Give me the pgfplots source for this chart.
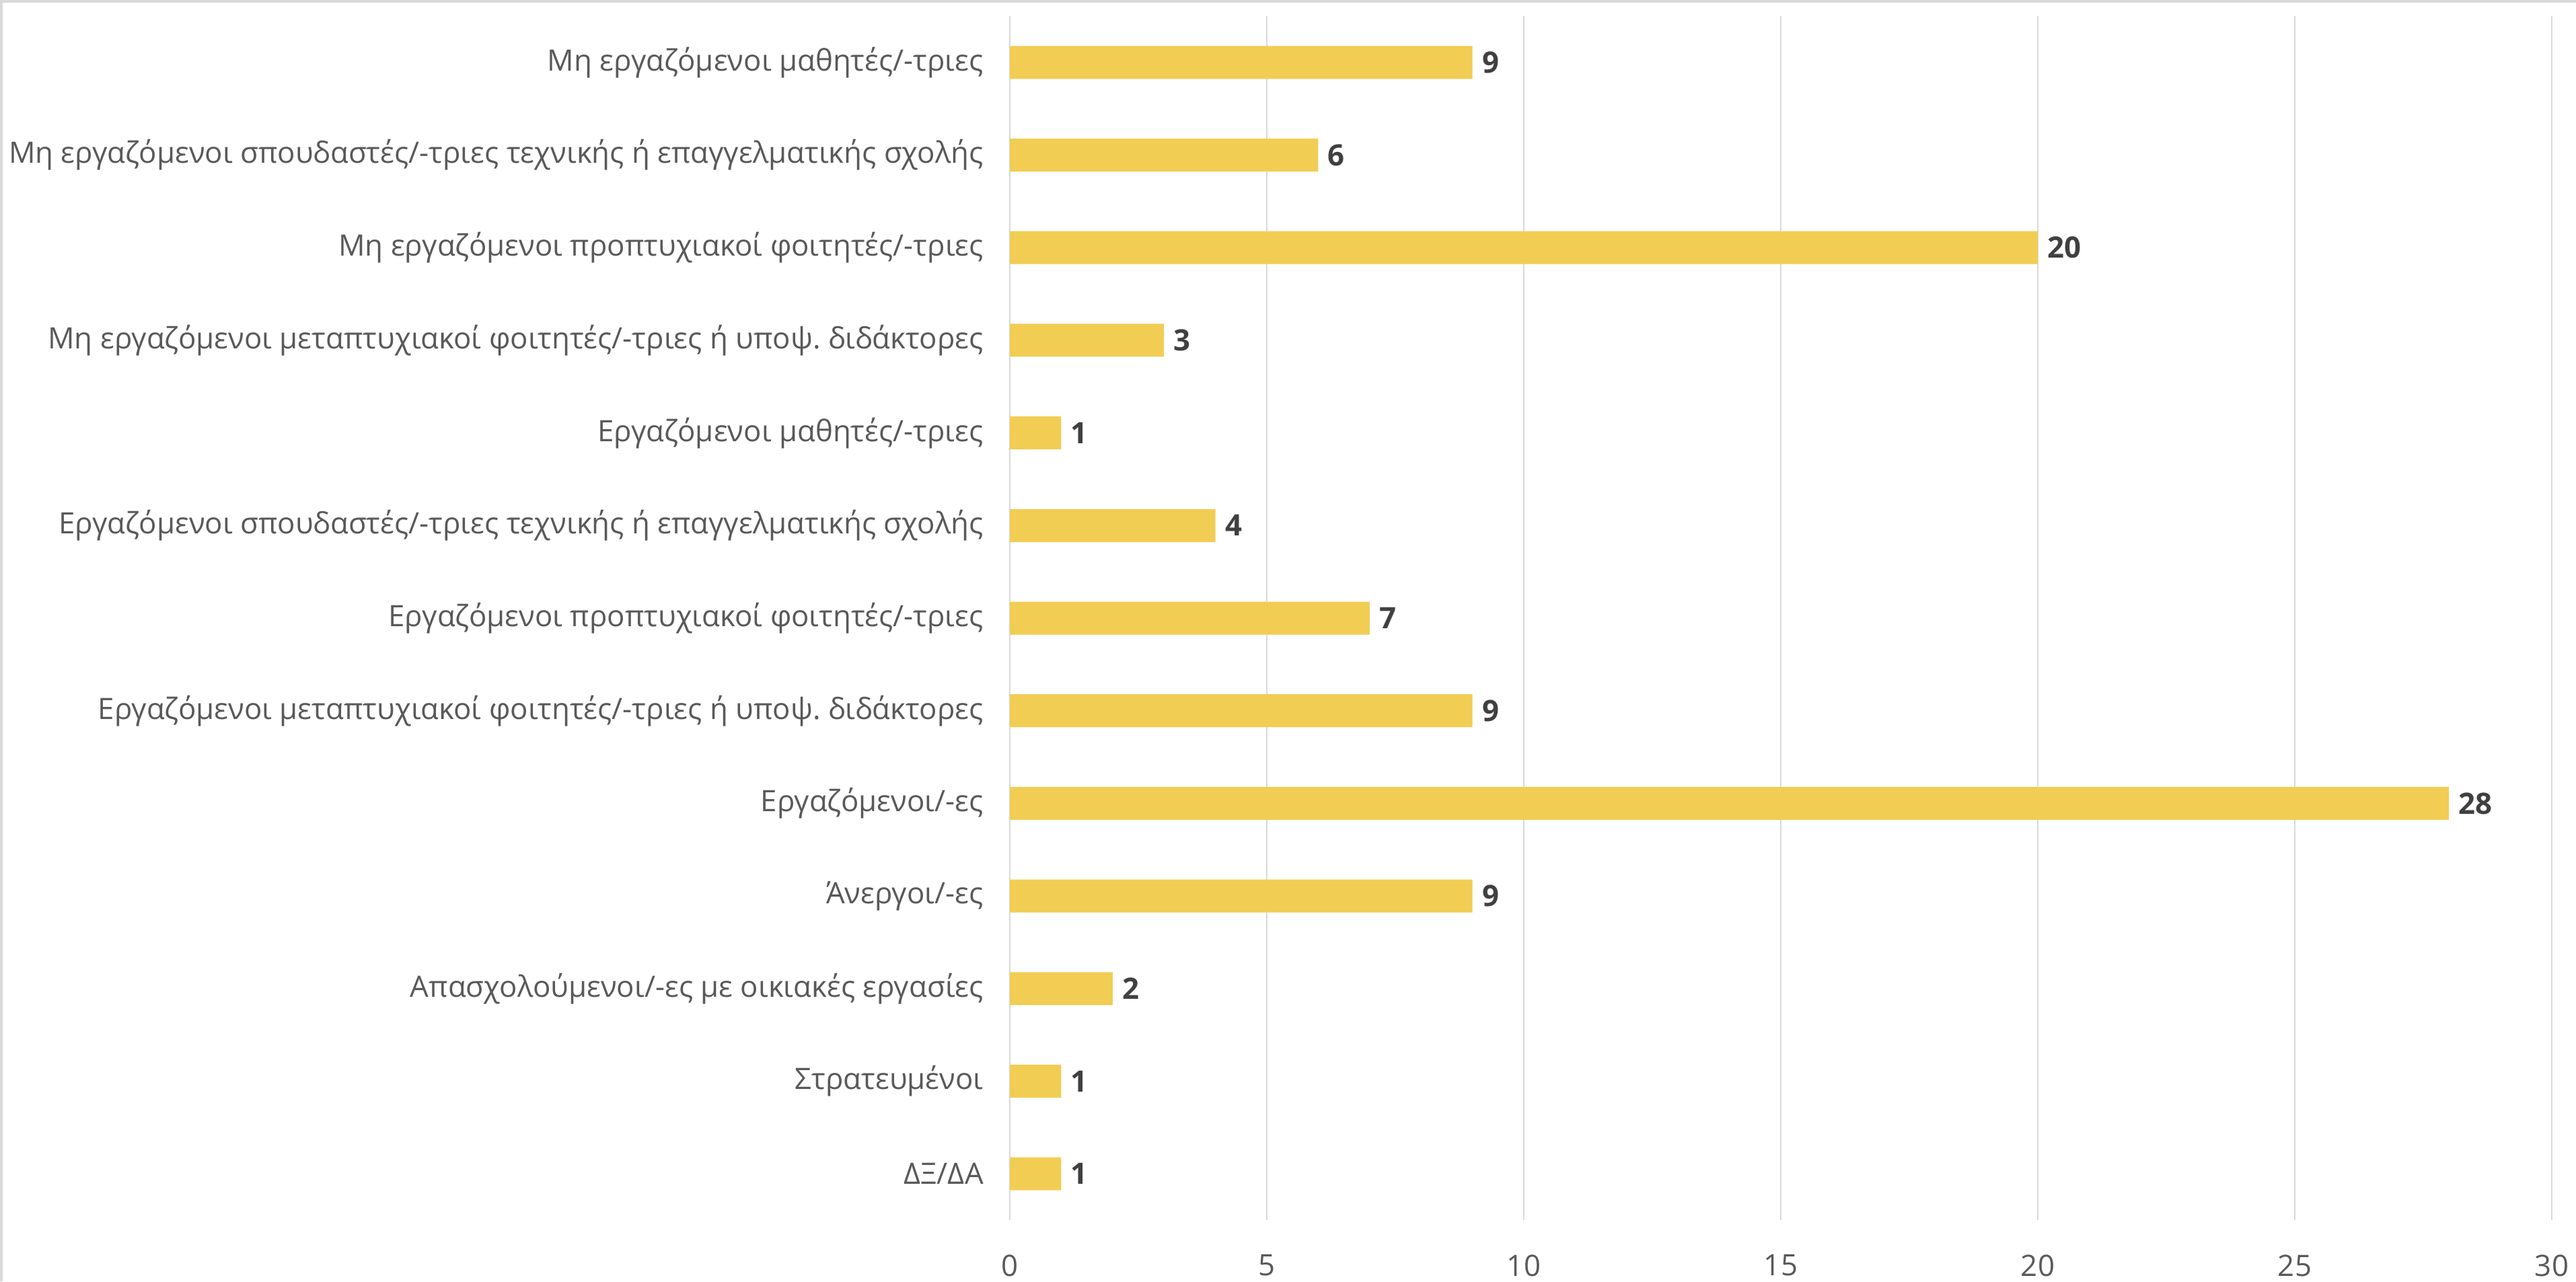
\documentclass[border=0pt]{standalone}
\usepackage{pgfplots}
\pgfplotsset{compat=1.18}
\usepackage{fontspec}
\setmainfont{Open Sans}
\definecolor{barc}{RGB}{241,205,84}
\definecolor{gridc}{RGB}{217,217,217}
\definecolor{labc}{RGB}{89,89,89}
\definecolor{datc}{RGB}{64,64,64}
\begin{document}
\frenchspacing
\fontsize{10.95pt}{13pt}\selectfont
\begin{tikzpicture}
\useasboundingbox (0,0) rectangle (957.25pt,476.25pt);
\draw[gridc, line width=1pt] (0.5pt,0) -- (0.5pt,475.75pt) -- (957.25pt,475.75pt);
\begin{axis}[
  at={(375.25pt,22.75pt)}, anchor=south west,
  scale only axis, width=573pt, height=447.5pt,
  xbar, bar width=12.25pt,
  xmin=0, xmax=30, xtick={0,5,...,30},
  ymin=-0.5, ymax=12.5, y dir=reverse,
  ytick={0,...,12},
  yticklabels={
    Μη εργαζόμενοι μαθητές/-τριες,
    Μη εργαζόμενοι σπουδαστές/-τριες τεχνικής ή επαγγελματικής σχολής,
    Μη εργαζόμενοι προπτυχιακοί φοιτητές/-τριες,
    Μη εργαζόμενοι μεταπτυχιακοί φοιτητές/-τριες ή υποψ. διδάκτορες,
    Εργαζόμενοι μαθητές/-τριες,
    Εργαζόμενοι σπουδαστές/-τριες τεχνικής ή επαγγελματικής σχολής,
    Εργαζόμενοι προπτυχιακοί φοιτητές/-τριες,
    Εργαζόμενοι μεταπτυχιακοί φοιτητές/-τριες ή υποψ. διδάκτορες,
    Εργαζόμενοι/-ες,
    Άνεργοι/-ες,
    Απασχολούμενοι/-ες με οικιακές εργασίες,
    Στρατευμένοι,
    ΔΞ/ΔΑ},
  axis line style={draw=none},
  tick style={draw=none},
  xmajorgrids, grid style={gridc, line width=0.6pt},
  /pgf/number format/assume math mode=true,
  ticklabel style={font=\fontsize{10.95pt}{13pt}\selectfont, text=labc},
  xticklabel style={yshift=-9pt},
  yticklabel style={xshift=-1.7pt},
  nodes near coords,
  every node near coord/.append style={font=\fontsize{10.95pt}{13pt}\selectfont\bfseries, text=datc, inner sep=3.4pt},
]
\addplot[fill=barc, draw=none] coordinates {
  (9,0) (6,1) (20,2) (3,3) (1,4) (4,5) (7,6) (9,7) (28,8) (9,9) (2,10) (1,11) (1,12)
};
\end{axis}
\end{tikzpicture}
\end{document}
